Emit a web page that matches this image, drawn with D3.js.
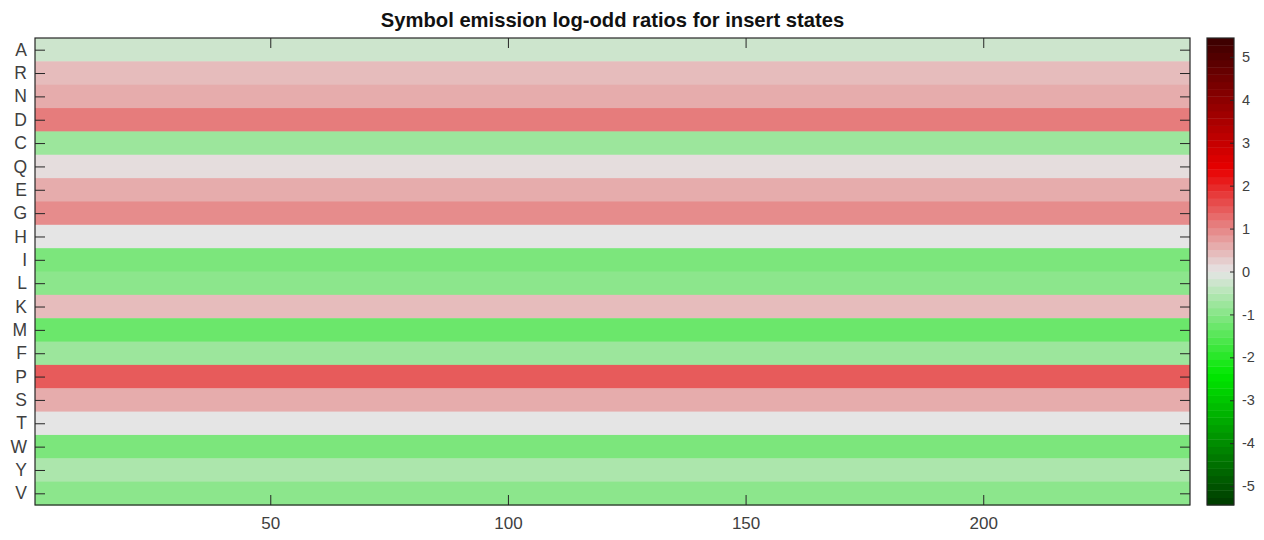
<!DOCTYPE html>
<html>
<head>
<meta charset="utf-8">
<script src="https://cdn.jsdelivr.net/npm/d3@7"></script>
<style>
  html, body { margin: 0; padding: 0; background: #fff; }
  svg { display: block; font-family: "Liberation Sans", Arial, sans-serif; }
</style>
</head>
<body>
<div id="chart"></div>
<script>
// Symbol emission log-odd ratios for insert states (HMM profile)
const symbols = ["A","R","N","D","C","Q","E","G","H","I","L","K","M","F","P","S","T","W","Y","V"];
// log-odd ratio per symbol (same for every insert state)
const logOdds = [-0.18, 0.35, 0.52, 1.06, -0.69, 0.15, 0.52, 0.86, 0.0, -1.02,
                 -0.86, 0.35, -1.27, -0.69, 1.36, 0.52, 0.0, -1.02, -0.52, -0.86];
const nStates = 243;
const xTicks = [50, 100, 150, 200];
const cbTicks = [5, 4, 3, 2, 1, 0, -1, -2, -3, -4, -5];
const cbLimit = 5.44;
const nLevels = 64;

const W = 1264, H = 540;
const plot = { left: 35, right: 1190, top: 38, bottom: 505 };
const cb = { left: 1207, right: 1234 };
const axisColor = "#262626";
const textColor = "#404040";
const FONT = "'Liberation Sans', Arial, sans-serif";

const svg = d3.select("#chart").append("svg").attr("width", W).attr("height", H);

const x = d3.scaleLinear().domain([0.5, nStates + 0.5]).range([plot.left, plot.right]);
const y = d3.scaleBand().domain(symbols).range([plot.top, plot.bottom]).padding(0);

// piecewise colormap: dark green -> green -> grey -> red -> dark red, 64 discrete levels
const cont = d3.scaleLinear()
  .domain([-cbLimit, -2.4, 0, 2.4, cbLimit])
  .range(["#003a00", "#00e800", "#e5e5e5", "#e80000", "#3a0000"])
  .interpolate(d3.interpolateRgb);
const step = 2 * cbLimit / nLevels;
const levelOf = v => Math.max(0, Math.min(nLevels - 1, Math.floor((v + cbLimit) / step)));
const color = v => v === 0 ? cont(0) : cont(-cbLimit + (levelOf(v) + 0.5) * step);

// heat map rows
svg.append("g").selectAll("rect")
  .data(symbols.map((s, i) => ({ s, v: logOdds[i] })))
  .join("rect")
  .attr("x", x(0.5))
  .attr("y", d => y(d.s))
  .attr("width", x(nStates + 0.5) - x(0.5))
  .attr("height", y.bandwidth() + 0.5)
  .attr("fill", d => color(d.v));

// axes
const tickLen = 10;
const yPts = d3.scalePoint().domain(symbols).range([plot.top + y.bandwidth() / 2, plot.bottom - y.bandwidth() / 2]);

const gLeft = svg.append("g").attr("transform", `translate(${plot.left},0)`)
  .call(d3.axisLeft(yPts).tickSizeInner(-tickLen).tickSizeOuter(0).tickPadding(8));
const gRight = svg.append("g").attr("transform", `translate(${plot.right},0)`)
  .call(d3.axisRight(yPts).tickSizeInner(-tickLen).tickSizeOuter(0).tickFormat(""));
const gBottom = svg.append("g").attr("transform", `translate(0,${plot.bottom})`)
  .call(d3.axisBottom(x).tickValues(xTicks).tickFormat(d => String(d))
    .tickSizeInner(-tickLen).tickSizeOuter(0).tickPadding(12));
const gTop = svg.append("g").attr("transform", `translate(0,${plot.top})`)
  .call(d3.axisTop(x).tickValues(xTicks).tickSizeInner(-tickLen).tickSizeOuter(0).tickFormat(""));

[gLeft, gRight, gBottom, gTop].forEach(g => {
  g.selectAll(".domain").remove();
  g.selectAll("line").attr("stroke", axisColor).attr("stroke-width", 1);
  g.selectAll("text").attr("fill", textColor).attr("font-size", 17).attr("font-family", FONT);
});
gLeft.selectAll("text").attr("font-size", 17.5);

svg.append("rect")
  .attr("x", plot.left).attr("y", plot.top)
  .attr("width", plot.right - plot.left).attr("height", plot.bottom - plot.top)
  .attr("fill", "none").attr("stroke", axisColor).attr("stroke-width", 1.2);

// colorbar
const cbY = d3.scaleLinear().domain([-cbLimit, cbLimit]).range([plot.bottom, plot.top]);
svg.append("g").selectAll("rect")
  .data(d3.range(nLevels))
  .join("rect")
  .attr("x", cb.left)
  .attr("y", k => cbY(-cbLimit + (k + 1) * step))
  .attr("width", cb.right - cb.left)
  .attr("height", k => cbY(-cbLimit + k * step) - cbY(-cbLimit + (k + 1) * step) + 0.4)
  .attr("fill", k => cont(-cbLimit + (k + 0.5) * step));

const gCb = svg.append("g").attr("transform", `translate(${cb.right},0)`)
  .call(d3.axisRight(cbY).tickValues(cbTicks).tickFormat(d => String(d))
    .tickSizeInner(-4).tickSizeOuter(0).tickPadding(8));
gCb.selectAll(".domain").remove();
gCb.selectAll("line").attr("stroke", axisColor);
gCb.selectAll("text").attr("fill", textColor).attr("font-size", 14.5).attr("font-family", FONT);

svg.append("rect")
  .attr("x", cb.left).attr("y", plot.top)
  .attr("width", cb.right - cb.left).attr("height", plot.bottom - plot.top)
  .attr("fill", "none").attr("stroke", axisColor).attr("stroke-width", 1.2);

// title
svg.append("text")
  .attr("x", (plot.left + plot.right) / 2)
  .attr("y", 27)
  .attr("text-anchor", "middle")
  .attr("font-size", 20.2)
  .attr("font-weight", "bold")
  .attr("fill", "#111")
  .attr("font-family", FONT)
  .text("Symbol emission log-odd ratios for insert states");
</script>
</body>
</html>
